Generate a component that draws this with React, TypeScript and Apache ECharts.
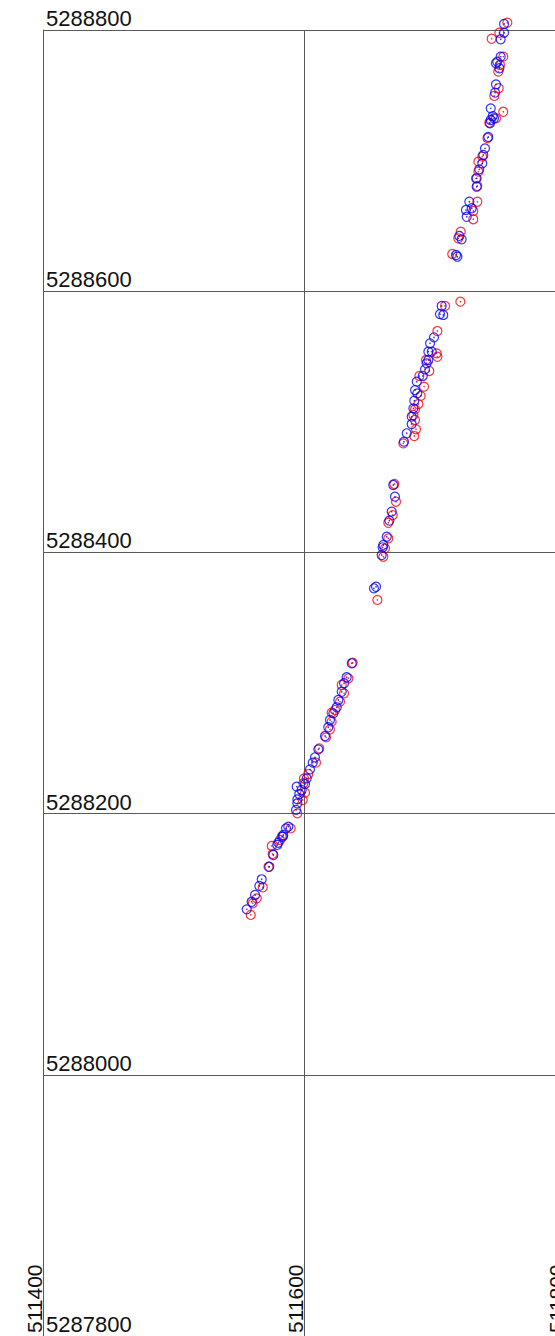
import React, { useEffect, useRef } from "react";
import * as echarts from "echarts";

const xMin = 511400;
const xMax = 511800;
const yMin = 5287800;
const yMax = 5288800;
const tickStep = 200;

const redEast = [
  511755.8, 511749.7, 511743.8, 511752.7, 511750.2, 511748.9, 511749.2, 511745.8, 511752.7, 511747.1,
  511742.0, 511740.6, 511736.6, 511733.6, 511733.6, 511731.8, 511732.8, 511732.8, 511729.7, 511729.7,
  511720.1, 511718.2, 511713.6, 511719.8, 511708.1, 511702.2, 511701.7, 511702.2, 511693.5, 511696.0,
  511688.4, 511692.0, 511689.4, 511687.6, 511685.1, 511683.8, 511685.1, 511685.8, 511684.5, 511676.1,
  511669.2, 511670.5, 511668.0, 511664.6, 511664.6, 511662.1, 511660.8, 511656.2, 511637.3, 511634.0,
  511628.9, 511630.7, 511627.6, 511623.8, 511621.2, 511621.2, 511619.9, 511616.9, 511611.7, 511609.2,
  511603.3, 511600.0, 511599.5, 511600.8, 511599.0, 511594.9, 511589.8, 511582.9, 511581.6, 511575.3,
  511576.0, 511572.8, 511568.4, 511563.8, 511560.7, 511559.2,
];
const redNorth = [
  5288805.6, 5288797.9, 5288793.3, 5288779.6, 5288773.2, 5288768.1, 5288755.4, 5288749.5, 5288737.4, 5288732.4,
  5288729.0, 5288717.3, 5288703.0, 5288699.2, 5288691.5, 5288686.4, 5288680.6, 5288668.5, 5288661.4, 5288655.1,
  5288645.6, 5288640.5, 5288628.5, 5288592.0, 5288588.7, 5288569.5, 5288552.4, 5288549.8, 5288547.3, 5288538.9,
  5288535.1, 5288526.9, 5288519.8, 5288513.6, 5288509.6, 5288505.2, 5288501.4, 5288494.3, 5288489.1, 5288483.5,
  5288452.4, 5288438.8, 5288428.6, 5288422.7, 5288410.8, 5288403.1, 5288396.7, 5288363.6, 5288315.5, 5288303.6,
  5288298.5, 5288292.1, 5288285.7, 5288279.3, 5288277.3, 5288270.4, 5288264.5, 5288258.4, 5288250.0, 5288239.0,
  5288230.3, 5288227.0, 5288223.2, 5288216.0, 5288210.4, 5288200.2, 5288188.7, 5288182.3, 5288179.8, 5288175.2,
  5288169.1, 5288159.3, 5288143.6, 5288135.1, 5288131.3, 5288122.4,
];

const blueEast = [
  511753.3, 511753.3, 511750.7, 511750.7, 511748.1, 511747.1, 511749.7, 511747.1, 511746.4, 511743.1,
  511744.6, 511745.6, 511743.1, 511742.5, 511741.2, 511738.7, 511737.4, 511736.6, 511734.3, 511732.3,
  511732.3, 511726.7, 511728.5, 511724.1, 511724.7, 511719.0, 511720.8, 511716.5, 511717.5, 511705.5,
  511704.2, 511706.7, 511699.6, 511696.6, 511697.9, 511695.3, 511695.3, 511694.0, 511692.7, 511691.0,
  511686.4, 511685.1, 511686.8, 511684.5, 511683.8, 511682.5, 511682.5, 511678.7, 511676.6, 511668.4,
  511669.7, 511667.2, 511665.4, 511663.4, 511660.8, 511660.3, 511659.5, 511655.2, 511653.6, 511636.6,
  511632.7, 511630.7, 511628.9, 511626.3, 511625.1, 511622.5, 511619.9, 511618.6, 511616.1, 511611.0,
  511608.4, 511606.7, 511604.6, 511602.1, 511600.8, 511594.4, 511598.2, 511596.4, 511594.9, 511594.9,
  511593.9, 511588.0, 511586.2, 511584.1, 511583.7, 511580.3, 511579.5, 511576.5, 511573.4, 511567.6,
  511565.8, 511562.5, 511559.9, 511556.1,
];
const blueNorth = [
  5288804.6, 5288797.9, 5288792.9, 5288779.6, 5288775.7, 5288774.5, 5288770.7, 5288758.4, 5288752.0, 5288740.0,
  5288734.1, 5288732.4, 5288731.1, 5288728.6, 5288718.1, 5288709.4, 5288704.3, 5288697.9, 5288693.3, 5288686.4,
  5288680.0, 5288668.5, 5288663.5, 5288662.2, 5288657.0, 5288642.3, 5288639.7, 5288627.7, 5288626.4, 5288588.7,
  5288582.5, 5288581.8, 5288564.7, 5288560.1, 5288553.7, 5288553.7, 5288547.3, 5288544.8, 5288540.2, 5288535.1,
  5288530.7, 5288524.3, 5288521.8, 5288516.2, 5288510.3, 5288503.9, 5288498.3, 5288491.2, 5288484.8, 5288451.6,
  5288442.7, 5288431.2, 5288424.3, 5288412.0, 5288405.7, 5288403.9, 5288398.0, 5288373.7, 5288372.5, 5288315.1,
  5288304.4, 5288299.8, 5288293.3, 5288287.0, 5288281.4, 5288276.8, 5288271.7, 5288266.1, 5288259.4, 5288249.2,
  5288243.1, 5288239.0, 5288233.9, 5288227.0, 5288222.7, 5288220.6, 5288218.1, 5288215.0, 5288210.9, 5288207.9,
  5288202.8, 5288190.0, 5288188.7, 5288183.6, 5288182.3, 5288177.7, 5288176.0, 5288168.3, 5288159.3, 5288149.7,
  5288144.6, 5288137.7, 5288132.5, 5288126.7,
];

const RED = "#ff0000";
const BLUE = "#0000ff";
const LINE = "#5a5a5a";
const FONT = "Liberation Sans, Arial, sans-serif";

function pairs(xs: number[], ys: number[]) {
  return xs.map((x, i) => [x, ys[i]]);
}

export default function App() {
  const ref = useRef<HTMLDivElement>(null);
  useEffect(() => {
    if (!ref.current) return;
    const chart = echarts.init(ref.current, undefined, { renderer: "svg" });
    const red = pairs(redEast, redNorth);
    const blue = pairs(blueEast, blueNorth);
    const ring = (name: string, data: number[][], color: string) => ({
      name,
      type: "scatter",
      data,
      clip: false,
      symbol: "circle",
      symbolSize: 9,
      silent: true,
      itemStyle: { color: "transparent", borderColor: color, borderWidth: 1.2 },
    });
    const dot = (name: string, data: number[][], color: string) => ({
      name: name + "-c",
      type: "scatter",
      data,
      clip: false,
      symbol: "circle",
      symbolSize: 1.6,
      silent: true,
      itemStyle: { color },
    });
    chart.setOption({
      animation: false,
      backgroundColor: "#ffffff",
      grid: {
        left: 43,
        top: 30,
        width: 522,
        height: 1306,
        containLabel: false,
        outerBoundsMode: "none",
      },
      xAxis: {
        type: "value",
        min: xMin,
        max: xMax,
        interval: tickStep,
        position: "bottom",
        axisLine: { show: true, lineStyle: { color: LINE, width: 1 } },
        axisTick: { show: false },
        splitLine: { show: true, lineStyle: { color: LINE, width: 1 } },
        axisLabel: {
          inside: true,
          rotate: 90,
          margin: 3,
          align: "left",
          verticalAlign: "bottom",
          lineHeight: 18,
          color: "#111",
          fontFamily: FONT,
          fontSize: 21,
          showMinLabel: true,
          showMaxLabel: true,
          formatter: (v: number) => String(v),
        },
      },
      yAxis: {
        type: "value",
        min: yMin,
        max: yMax,
        interval: tickStep,
        position: "left",
        axisLine: { show: true, lineStyle: { color: LINE, width: 1 } },
        axisTick: { show: false },
        splitLine: { show: true, lineStyle: { color: LINE, width: 1 } },
        axisLabel: {
          inside: true,
          margin: 3,
          align: "left",
          verticalAlign: "bottom",
          lineHeight: 23,
          color: "#111",
          fontFamily: FONT,
          fontSize: 22,
          showMinLabel: true,
          showMaxLabel: true,
          formatter: (v: number) => String(v),
        },
      },
      series: [
        ring("red", red, RED),
        dot("red", red, RED),
        ring("blue", blue, BLUE),
        dot("blue", blue, BLUE),
      ],
    });
    return () => chart.dispose();
  }, []);
  return (
    <div
      ref={ref}
      style={{ position: "absolute", left: 0, top: 0, width: 555, height: 1336 }}
    />
  );
}
